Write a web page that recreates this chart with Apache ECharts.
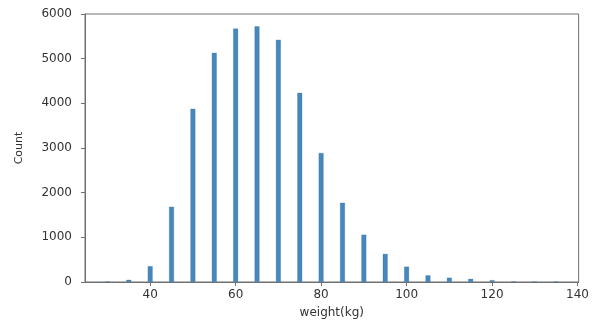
<!DOCTYPE html>
<html>
<head>
<meta charset="utf-8">
<script src="https://cdn.jsdelivr.net/npm/echarts@6/dist/echarts.min.js"></script>
<style>
  html, body { margin: 0; padding: 0; background: #fff; }
  #chart { width: 592px; height: 324px; }
</style>
</head>
<body>
<div id="chart"></div>
<script>
// weight bins (kg) and counts
var weights = [30, 35, 40, 45, 50, 55, 60, 65, 70, 75, 80, 85, 90, 95, 100, 105, 110, 115, 120, 125, 130, 135];
var counts = [10, 50, 355, 1685, 3880, 5130, 5675, 5725, 5425, 4235, 2890, 1775, 1060, 630, 345, 150, 98, 72, 42, 12, 6, 4];
var xTicks = [40, 60, 80, 100, 120, 140];

var chart = echarts.init(document.getElementById('chart'));

var axisColor = '#707070';
var font = 'DejaVu Sans';

chart.setOption({
  animation: false,
  grid: {
    left: 85, right: 8, top: 14, bottom: 41,
    show: true, borderColor: axisColor, borderWidth: 1
  },
  xAxis: {
    type: 'value',
    min: 24.75,
    max: 140.25,
    name: 'weight(kg)',
    nameLocation: 'middle',
    nameGap: 25,
    nameTextStyle: { fontFamily: font, fontSize: 12, color: '#333' },
    axisLine: { show: true, lineStyle: { color: axisColor } },
    axisTick: { show: true, inside: false, length: 4, lineStyle: { color: axisColor }, customValues: xTicks },
    axisLabel: { fontFamily: font, fontSize: 12, color: '#333', margin: 7, customValues: xTicks },
    splitLine: { show: false }
  },
  yAxis: {
    type: 'value',
    min: 0,
    max: 6000,
    interval: 1000,
    name: 'Count',
    nameLocation: 'middle',
    nameGap: 60,
    nameRotate: 90,
    nameTextStyle: { fontFamily: font, fontSize: 11, color: '#333' },
    axisLine: { show: true, lineStyle: { color: axisColor } },
    axisTick: { show: true, inside: false, length: 4, lineStyle: { color: axisColor } },
    axisLabel: {
      fontFamily: font, fontSize: 12, color: '#333', margin: 13,
      formatter: function (v) { return String(v); }
    },
    splitLine: { show: false }
  },
  series: [{
    type: 'bar',
    barWidth: 5,
    data: weights.map(function (w, i) { return [w, counts[i]]; }),
    itemStyle: { color: '#4688bd', borderColor: 'rgba(40,100,150,0.5)', borderWidth: 0.5 }
  }]
});
</script>
</body>
</html>
